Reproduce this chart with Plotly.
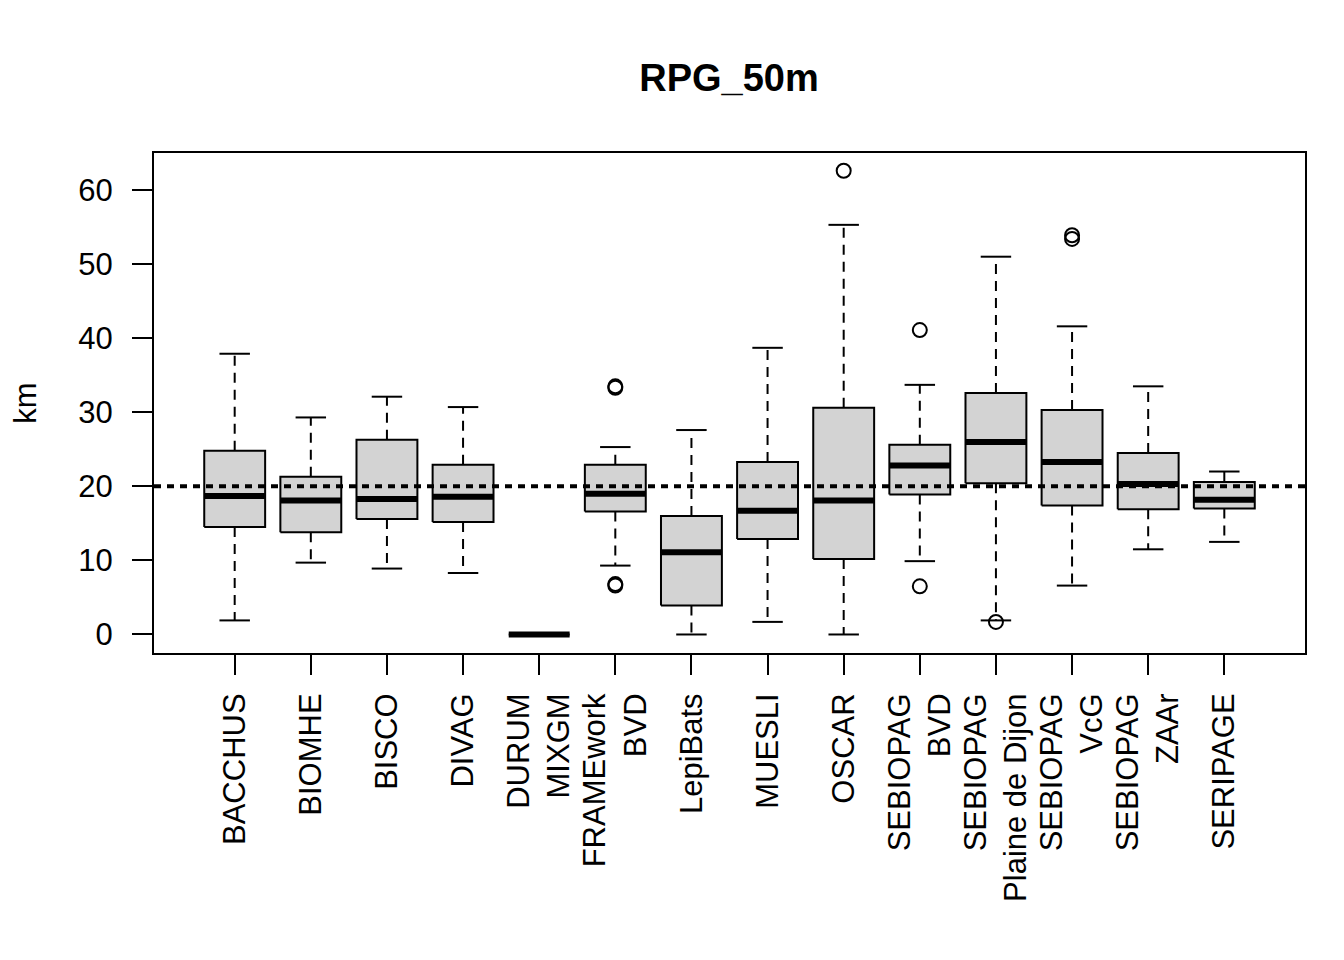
import plotly.graph_objects as go

categories = ["BACCHUS", "BIOMHE", "BISCO", "DIVAG", "DURUM<br>MIXGM", "FRAMEwork<br>BVD",
              "LepiBats", "MUESLI", "OSCAR", "SEBIOPAG<br>BVD", "SEBIOPAG<br>Plaine de Dijon",
              "SEBIOPAG<br>VcG", "SEBIOPAG<br>ZAAr", "SERIPAGE"]
lower_whisker = [1.9, 9.7, 8.9, 8.3, 0.0, 9.3, 0.0, 1.7, 0.0, 9.9, 1.9, 6.6, 11.5, 12.5]
q1 =            [14.5, 13.8, 15.6, 15.2, 0.0, 16.6, 3.9, 12.9, 10.2, 18.9, 20.4, 17.4, 16.9, 17.0]
median =        [18.7, 18.1, 18.3, 18.6, 0.0, 19.0, 11.1, 16.7, 18.1, 22.8, 26.0, 23.3, 20.3, 18.2]
q3 =            [24.8, 21.3, 26.3, 22.9, 0.0, 22.9, 16.0, 23.3, 30.6, 25.6, 32.6, 30.3, 24.5, 20.6]
upper_whisker = [37.9, 29.3, 32.1, 30.7, 0.0, 25.3, 27.6, 38.7, 55.3, 33.7, 51.0, 41.6, 33.5, 22.0]
outlier_group = [6, 6, 6, 6, 9, 10, 10, 11, 12, 12]
outlier_value = [33.3, 33.5, 6.6, 6.8, 62.6, 41.1, 6.5, 1.7, 53.9, 53.4]
reference_km = 20
y_ticks = [0, 10, 20, 30, 40, 50, 60]

BOX_HALF = 0.4
CAP_HALF = 0.2
FONT = "Liberation Sans, Arial, Helvetica, sans-serif"

positions = list(range(1, len(categories) + 1))

box_x, box_y = [], []
med_x, med_y = [], []
wh_x, wh_y = [], []
cap_x, cap_y = [], []
for p, lo, a, m, b, hi in zip(positions, lower_whisker, q1, median, q3, upper_whisker):
    box_x += [p - BOX_HALF, p + BOX_HALF, p + BOX_HALF, p - BOX_HALF, p - BOX_HALF, None]
    box_y += [a, a, b, b, a, None]
    med_x += [p - BOX_HALF, p + BOX_HALF, None]
    med_y += [m, m, None]
    if hi > b:
        wh_x += [p, p, None]
        wh_y += [b, hi, None]
    if lo < a:
        wh_x += [p, p, None]
        wh_y += [a, lo, None]
    if hi > b or lo < a:
        cap_x += [p - CAP_HALF, p + CAP_HALF, None, p - CAP_HALF, p + CAP_HALF, None]
        cap_y += [hi, hi, None, lo, lo, None]

fig = go.Figure()
fig.add_trace(go.Scatter(x=wh_x, y=wh_y, mode="lines",
                         line=dict(color="black", width=2, dash="10px,7px"),
                         hoverinfo="skip", showlegend=False))
fig.add_trace(go.Scatter(x=cap_x, y=cap_y, mode="lines",
                         line=dict(color="black", width=2),
                         hoverinfo="skip", showlegend=False))
fig.add_trace(go.Scatter(x=box_x, y=box_y, mode="lines", fill="toself",
                         fillcolor="#D3D3D3", line=dict(color="black", width=2),
                         hoverinfo="skip", showlegend=False))
fig.add_trace(go.Scatter(x=med_x, y=med_y, mode="lines",
                         line=dict(color="black", width=6),
                         hoverinfo="skip", showlegend=False))
fig.add_trace(go.Scatter(x=outlier_group, y=outlier_value, mode="markers",
                         marker=dict(symbol="circle-open", size=14, color="black",
                                     line=dict(width=2, color="black")),
                         showlegend=False))

fig.add_shape(type="line", xref="paper", x0=0, x1=1, yref="y",
              y0=reference_km, y1=reference_km,
              line=dict(color="black", width=4, dash="7px,6px"), layer="above")

fig.update_layout(
    width=1336, height=952,
    margin=dict(l=146, r=39, t=145, b=307, autoexpand=False),
    paper_bgcolor="white", plot_bgcolor="white",
    font=dict(family=FONT, size=31, color="black"),
    title=dict(text="<b>RPG_50m</b>", x=(729 - 8) / 1336, xanchor="center",
               y=1 - 70 / 952, yanchor="middle", yref="container",
               font=dict(family=FONT, size=38, color="black")),
    xaxis=dict(range=[-0.06, 15.06], tickmode="array", tickvals=positions,
               ticktext=categories, tickangle=-90, ticks="outside", ticklen=20,
               tickwidth=2, tickcolor="black", showline=True, linecolor="black",
               linewidth=2, mirror=True, showgrid=False, zeroline=False,
               automargin=False, ticklabelstandoff=6, tickfont=dict(size=31)),
    yaxis=dict(range=[-2.5, 65], tickmode="array", tickvals=y_ticks,
               ticks="outside", ticklen=20, tickwidth=2, tickcolor="black",
               showline=True, linecolor="black", linewidth=2, mirror=True,
               showgrid=False, zeroline=False, ticklabelstandoff=13,
               automargin=True, tickfont=dict(size=31),
               title=dict(text="km", standoff=42, font=dict(size=31))),
)

fig.write_html("out.html")
